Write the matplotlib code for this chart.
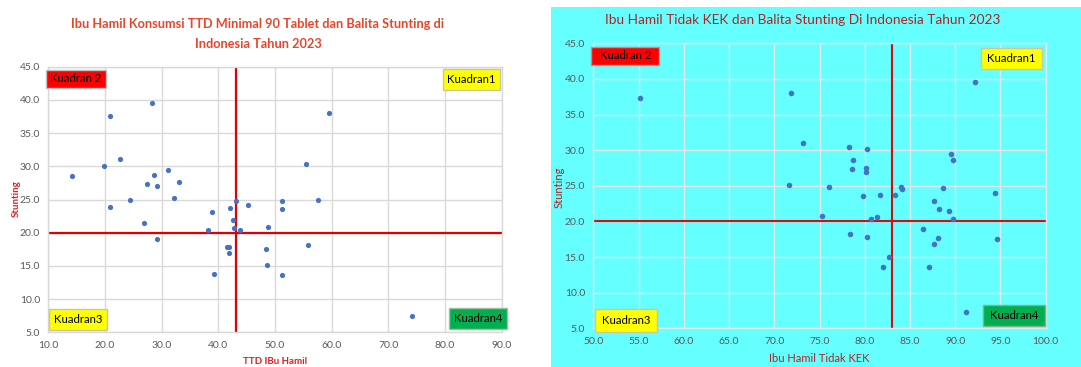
import matplotlib
matplotlib.use("Agg")
import matplotlib.pyplot as plt
from matplotlib.patches import Rectangle
from matplotlib.ticker import FormatStrFormatter, MultipleLocator

# ---------------- data ----------------
ttd_x = [14.2, 19.9, 20.9, 20.9, 22.7, 24.5, 26.8, 27.4, 28.3, 28.6,
         29.1, 29.2, 31.1, 32.1, 33.1, 38.1, 38.8, 39.3, 41.5, 41.9,
         41.8, 42.1, 42.6, 42.8, 43.1, 43.9, 45.2, 48.4, 48.6, 48.8,
         51.2, 51.2, 51.2, 55.4, 55.9, 57.6, 59.6, 74.2]
ttd_y = [28.5, 30.1, 37.5, 23.9, 31.1, 25.0, 21.5, 27.4, 39.6, 28.7,
         27.1, 19.1, 29.5, 25.2, 27.6, 20.4, 23.1, 13.8, 17.8, 17.8,
         17.0, 23.7, 21.9, 20.7, 24.7, 20.4, 24.2, 17.5, 15.1, 20.9,
         24.7, 23.6, 13.7, 30.4, 18.1, 24.9, 38.0, 7.5]

kek_x = [55.2, 71.85, 71.6, 73.2, 75.3, 76.05, 78.3, 78.7, 78.55, 78.4,
         79.8, 80.2, 80.1, 80.1, 80.2, 80.65, 81.4, 81.7, 82.0, 82.65,
         83.3, 84.0, 84.1, 86.4, 87.1, 87.6, 87.6, 88.1, 88.25, 88.7,
         89.35, 89.5, 89.8, 89.7, 91.2, 92.2, 94.4, 94.65]
kek_y = [37.3, 38.0, 25.1, 31.0, 20.8, 24.8, 30.4, 28.6, 27.4, 18.2,
         23.6, 30.1, 27.5, 27.0, 17.8, 20.3, 20.6, 23.7, 13.65, 15.06,
         23.7, 24.8, 24.6, 18.9, 13.65, 22.9, 16.9, 17.7, 21.7, 24.65,
         21.4, 29.4, 28.6, 20.3, 7.3, 39.5, 24.0, 17.5]

ttd_cut = 43.1
kek_cut = 83.0
stunting_cut = 20.0

title_left = "Ibu Hamil Konsumsi TTD Minimal 90 Tablet dan Balita Stunting di\nIndonesia Tahun 2023"
title_right = "Ibu Hamil Tidak KEK dan Balita Stunting Di Indonesia Tahun 2023"
xlabel_left = "TTD IBu Hamil"
xlabel_right = "Ibu Hamil Tidak KEK"
ylabel = "Stunting"
quad_labels = ["Kuadran1", "Kuadran 2", "Kuadran3", "Kuadran4"]

# ---------------- figure ----------------
W, H = 1081, 367
fig = plt.figure(figsize=(W / 100, H / 100), dpi=100)
plt.rcParams['font.family'] = ['Lato', 'DejaVu Sans']

def px_axes(x0, x1, y0, y1):
    return fig.add_axes([x0 / W, 1 - y1 / H, (x1 - x0) / W, (y1 - y0) / H])

# cyan background for the right panel
fig.patches.append(Rectangle((551 / W, 0), 1 - 551 / W, 1 - 7 / H,
                             transform=fig.transFigure, facecolor="#66FFFF",
                             edgecolor="none", zorder=-10))

axL = px_axes(48.3, 501.7, 66.7, 332.3)
axR = px_axes(593.3, 1045.7, 43.3, 328.3)
axL.set_zorder(2)
axR.set_zorder(2)

tick_color = "#595959"
dot_color = "#4472C4"

def style(ax, xlim, xstep, grid_color, bg):
    ax.set_facecolor(bg)
    ax.set_xlim(*xlim)
    ax.set_ylim(5, 45)
    ax.xaxis.set_major_locator(MultipleLocator(xstep))
    ax.yaxis.set_major_locator(MultipleLocator(5))
    ax.xaxis.set_major_formatter(FormatStrFormatter("%.1f"))
    ax.yaxis.set_major_formatter(FormatStrFormatter("%.1f"))
    ax.grid(True, color=grid_color, linewidth=1.0, zorder=0)
    ax.set_axisbelow(True)
    for s in ax.spines.values():
        s.set_color(grid_color)
        s.set_linewidth(1.0)
    ax.tick_params(length=0, labelsize=7.5, labelcolor=tick_color, pad=6)

style(axL, (10, 90), 10, "#D9D9D9", "white")
style(axR, (50, 100), 5, "#E2E6E6", "#66FFFF")

# points
axL.scatter(ttd_x, ttd_y, s=14, color=dot_color, zorder=3, linewidths=0)
axR.scatter(kek_x, kek_y, s=16, color=dot_color, zorder=3, linewidths=0)

# quadrant lines
axL.axvline(ttd_cut, color="#E00000", linewidth=1.6, zorder=2)
axL.axhline(stunting_cut, color="#E00000", linewidth=1.6, zorder=2)
axR.axvline(kek_cut, color="#D01010", linewidth=1.5, zorder=2)
axR.axhline(stunting_cut, color="#D01010", linewidth=1.5, zorder=2)

# quadrant boxes
def qbox(ax, x0, x1, y0, y1, text, fc, ec):
    r = Rectangle((x0, y0), x1 - x0, y1 - y0, transform=ax.transAxes,
                  facecolor=fc, edgecolor=ec, linewidth=1.0, zorder=4,
                  clip_on=False)
    ax.add_patch(r)
    ax.text((x0 + x1) / 2, (y0 + y1) / 2, text, transform=ax.transAxes,
            ha="center", va="center", fontsize=8.2, color="black", zorder=5)

red, yellow, green = "#FF0000", "#FFFF00", "#00B050"
qbox(axL, -0.006, 0.128, 0.920, 0.988, quad_labels[1], red, "#C0C0C0")
qbox(axL, 0.870, 0.996, 0.912, 0.990, quad_labels[0], yellow, "#C8C8A0")
qbox(axL, 0.002, 0.129, 0.009, 0.089, quad_labels[2], yellow, "#C8C8A0")
qbox(axL, 0.884, 1.011, 0.014, 0.093, quad_labels[3], green, "#A0C0A0")

qbox(axR, -0.004, 0.145, 0.924, 0.988, quad_labels[1], red, "#C09090")
qbox(axR, 0.856, 0.991, 0.910, 0.985, quad_labels[0], yellow, "#C8C8A0")
qbox(axR, 0.004, 0.140, -0.012, 0.068, quad_labels[2], yellow, "#C8C8A0")
qbox(axR, 0.861, 0.999, 0.008, 0.083, quad_labels[3], green, "#80B090")

# titles and labels
fig.text(258 / W, 1 - 34 / H, title_left, ha="center", va="center",
         fontsize=9.2, fontweight="bold", color="#E8452C", linespacing=1.7)
fig.text(803 / W, 1 - 20 / H, title_right, ha="center", va="center",
         fontsize=9.8, color="#B22222")

fig.text(275 / W, 1 - 361 / H, xlabel_left, ha="center", va="center",
         fontsize=7, fontweight="bold", color="#E02020")
fig.text(16 / W, 1 - 199 / H, ylabel, ha="center", va="center", rotation=90,
         fontsize=7, fontweight="bold", color="#E02020")
fig.text(819 / W, 1 - 359 / H, xlabel_right, ha="center", va="center",
         fontsize=8, color="#B22222")
fig.text(559 / W, 1 - 187 / H, ylabel, ha="center", va="center", rotation=90,
         fontsize=8, color="#B22222")

fig.savefig("out.png", dpi=100)
